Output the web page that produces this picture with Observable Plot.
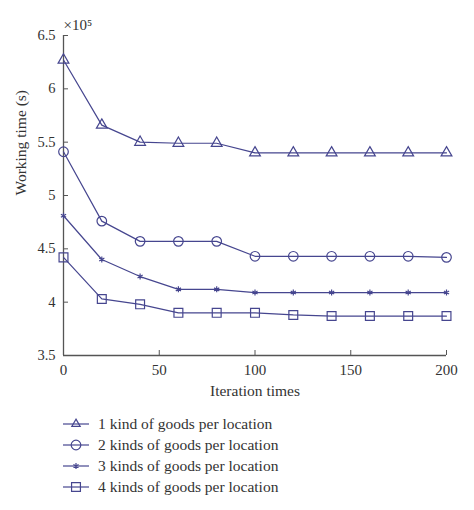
<!DOCTYPE html>
<html>
<head>
<meta charset="utf-8">
<script src="https://cdn.jsdelivr.net/npm/d3@7"></script>
<script src="https://cdn.jsdelivr.net/npm/@observablehq/plot@0.6"></script>
<style>
  body { margin: 0; background: #fff; font-family: "Liberation Serif", "DejaVu Serif", serif; }
  #chart { width: 474px; }
  .legend { margin: 8px 0 0 62px; font-size: 15.5px; color: #333; }
  .legend .row { display: flex; align-items: center; height: 21px; }
  .legend svg { margin-right: 8px; }
</style>
</head>
<body>
<div id="chart"></div>
<script>
// Iteration counts on the x axis
const iterations = [0, 20, 40, 60, 80, 100, 120, 140, 160, 180, 200];

// Working time in units of 10^5 seconds
const oneKind    = [6.27, 5.66, 5.50, 5.49, 5.49, 5.40, 5.40, 5.40, 5.40, 5.40, 5.40];
const twoKinds   = [5.41, 4.76, 4.57, 4.57, 4.57, 4.43, 4.43, 4.43, 4.43, 4.43, 4.42];
const threeKinds = [4.81, 4.40, 4.24, 4.12, 4.12, 4.09, 4.09, 4.09, 4.09, 4.09, 4.09];
const fourKinds  = [4.42, 4.03, 3.98, 3.90, 3.90, 3.90, 3.88, 3.87, 3.87, 3.87, 3.87];

const seriesNames = [
  "1 kind of goods per location",
  "2 kinds of goods per location",
  "3 kinds of goods per location",
  "4 kinds of goods per location"
];
const seriesSymbols = ["triangle", "circle", "asterisk", "square"];
const seriesRadius = [4.0, 4.8, 2.8, 5.0];

const xTicks = [0, 50, 100, 150, 200];
const yTicks = [3.5, 4, 4.5, 5, 5.5, 6, 6.5];

const color = "#46468f";
const axisColor = "#555";

const allSeries = [oneKind, twoKinds, threeKinds, fourKinds];
const rows = allSeries.flatMap((vals, s) =>
  vals.map((v, i) => ({ series: seriesNames[s], iter: iterations[i], time: v, s }))
);

const lineMarks = allSeries.map((vals, s) =>
  Plot.line(rows.filter(d => d.s === s), { x: "iter", y: "time", stroke: color, strokeWidth: 1.2 })
);
const dotMarks = allSeries.map((vals, s) =>
  Plot.dot(rows.filter(d => d.s === s), {
    x: "iter", y: "time", symbol: () => seriesSymbols[s], r: seriesRadius[s],
    stroke: color, strokeWidth: 1.2, fill: s === 2 ? color : "none"
  })
);

const chart = Plot.plot({
  width: 474,
  height: 405,
  marginLeft: 63,
  marginRight: 28,
  marginTop: 35,
  marginBottom: 50,
  style: { fontFamily: "Liberation Serif, DejaVu Serif, serif", fontSize: "15px", color: "#333", background: "#fff" },
  x: { domain: [0, 200] },
  y: { domain: [3.5, 6.5] },
  marks: [
    Plot.ruleX([0], { stroke: axisColor, strokeWidth: 1.3 }),
    Plot.ruleY([3.5], { stroke: axisColor, strokeWidth: 1.3 }),
    Plot.axisX({ ticks: xTicks, tickSize: -5, tickPadding: 14, stroke: axisColor, label: null, fontSize: 15 }),
    Plot.axisY({ ticks: yTicks, tickSize: -5, tickPadding: 13, stroke: axisColor, label: null, tickFormat: d => String(d), fontSize: 14.5 }),
    Plot.text(["Iteration times"], { frameAnchor: "bottom", dy: 40, fontSize: 15.5, fill: "#333" }),
    Plot.text(["Working time (s)"], { frameAnchor: "left", dx: -42, rotate: -90, fontSize: 15.5, fill: "#333" }),
    Plot.text(["×10⁵"], { frameAnchor: "top-left", dy: -16, dx: 0, textAnchor: "start", fontSize: 15, fill: "#333" }),
    ...lineMarks,
    ...dotMarks
  ]
});
document.getElementById("chart").appendChild(chart);

// Legend below the plot: a short line segment with the series marker, then its name
const legend = d3.select("#chart").append("div").attr("class", "legend");
seriesNames.forEach((name, s) => {
  const row = legend.append("div").attr("class", "row");
  const svg = row.append("svg").attr("width", 28).attr("height", 16);
  svg.append("line").attr("x1", 1).attr("x2", 27).attr("y1", 8).attr("y2", 8)
    .attr("stroke", color).attr("stroke-width", 1.2);
  const symbolType = { triangle: d3.symbolTriangle2, circle: d3.symbolCircle, asterisk: d3.symbolAsterisk, square: d3.symbolSquare }[seriesSymbols[s]];
  const r = seriesRadius[s];
  svg.append("path")
    .attr("transform", "translate(14,8)")
    .attr("d", d3.symbol(symbolType, r * r * Math.PI)())
    .attr("fill", s === 2 ? color : "none")
    .attr("stroke", color).attr("stroke-width", 1.2);
  row.append("span").text(name);
});
</script>
</body>
</html>
